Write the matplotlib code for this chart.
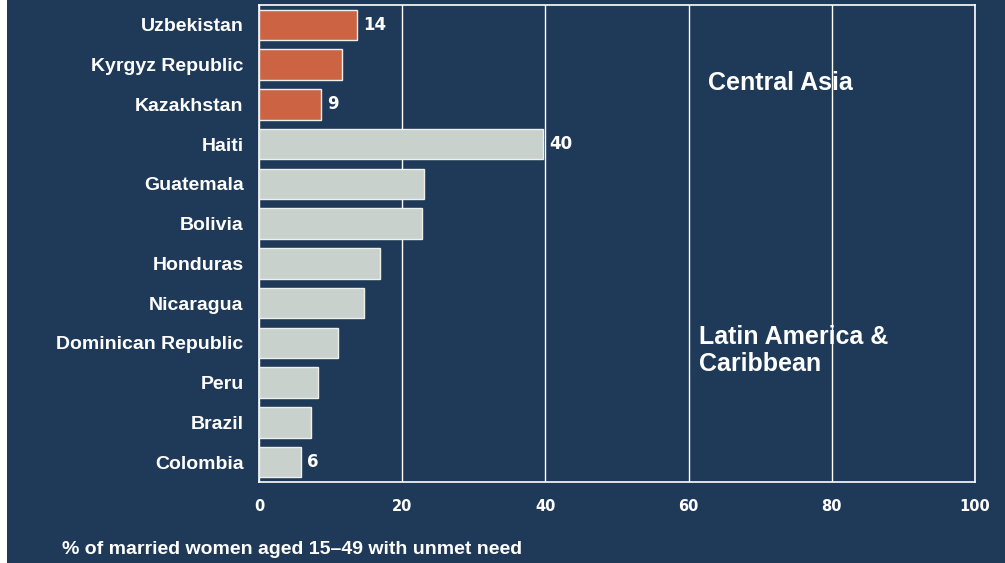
import matplotlib.pyplot as plt

countries = ["Uzbekistan", "Kyrgyz Republic", "Kazakhstan", "Haiti", "Guatemala",
             "Bolivia", "Honduras", "Nicaragua", "Dominican Republic", "Peru",
             "Brazil", "Colombia"]
unmet = [13.7, 11.6, 8.7, 39.7, 23.0, 22.8, 16.9, 14.7, 11.0, 8.3, 7.3, 5.9]
region = ["CA", "CA", "CA", "LAC", "LAC", "LAC", "LAC", "LAC", "LAC", "LAC", "LAC", "LAC"]
value_labels = {0: "14", 2: "9", 3: "40", 11: "6"}
xticks = [0, 20, 40, 60, 80, 100]

navy = "#1f3a58"
colors = {"CA": "#cc6443", "LAC": "#c9d1cc"}

fig = plt.figure(figsize=(10.05, 5.63), dpi=100, facecolor="white")
# navy panel, leaving a thin white strip on the left
bg = fig.add_axes([7 / 1005, 0, 1, 1], zorder=-1)
bg.axis("off")
bg.add_patch(plt.Rectangle((0, 0), 1, 1, transform=bg.transAxes, color=navy))

ax = fig.add_axes([259 / 1005, 1 - 482 / 563, 716 / 1005, 477 / 563])
ax.set_facecolor(navy)

ypos = list(range(len(countries)))
ax.barh(ypos, unmet, height=0.77, color=[colors[r] for r in region],
        edgecolor="#eef0ee", linewidth=1, zorder=3)

for i, lab in value_labels.items():
    ax.text(unmet[i] + 0.8, i, lab, va="center", ha="left", color="white",
            fontsize=12, fontweight="bold", family="DejaVu Sans", zorder=4)

ax.set_xlim(0, 100)
ax.set_ylim(len(countries) - 0.5, -0.5)
ax.set_yticks(ypos)
ax.set_yticklabels(countries, fontsize=14, fontweight="bold", family="Liberation Sans",
                   color="white")
ax.set_xticks(xticks)
ax.set_xticklabels([str(t) for t in xticks], fontsize=10.5, fontweight="bold",
                   family="DejaVu Sans", color="white")
ax.tick_params(axis="y", length=0, pad=11)
ax.tick_params(axis="x", length=0, pad=12)
ax.grid(axis="x", color="white", linewidth=1, zorder=1)
for s in ax.spines.values():
    s.set_color("white")
    s.set_linewidth(1.2)

ax.text(62.7, 1.45, "Central Asia", color="white", fontsize=18, fontweight="bold",
        family="Liberation Sans", va="center", ha="left", zorder=4)
ax.text(61.5, 8.2, "Latin America &\nCaribbean", color="white", fontsize=18,
        fontweight="bold", family="Liberation Sans", va="center", ha="left",
        linespacing=1.15, zorder=4)

fig.text(62 / 1005, 1 - 549 / 563, "% of married women aged 15\u201349 with unmet need",
         color="white", fontsize=14, fontweight="bold", family="Liberation Sans",
         va="center", ha="left")

fig.savefig("out.png", dpi=100, facecolor=fig.get_facecolor())
